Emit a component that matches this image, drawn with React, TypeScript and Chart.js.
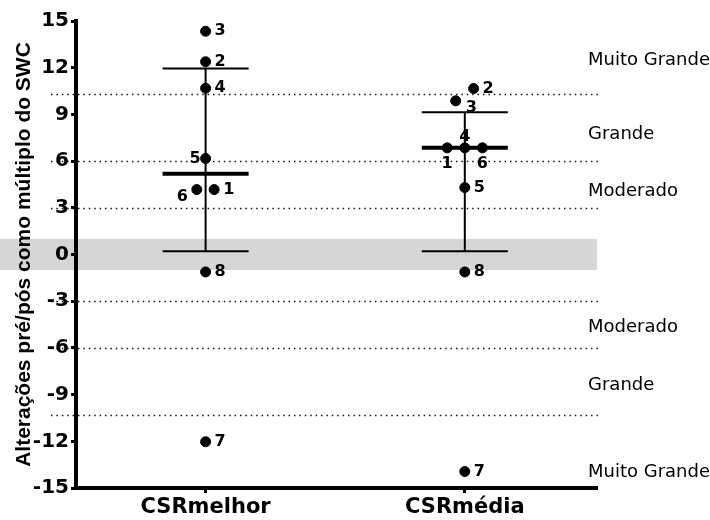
import { useEffect, useRef } from 'react';
import { Chart, registerables } from 'chart.js';

Chart.register(...registerables);

// ---- data ----
const categories = ['CSRmelhor', 'CSRmédia'];
const subjectIds = ['1', '2', '3', '4', '5', '6', '7', '8'];
const melhorValues = [4.17, 12.38, 14.34, 10.68, 6.17, 4.17, -12.03, -1.12];
const mediaValues = [6.85, 10.66, 9.87, 6.85, 4.3, 6.85, -13.94, -1.12];
const meanValues = [5.18, 6.85];
const upperValues = [11.95, 9.14];
const lowerValues = [0.21, 0.21];
const thresholdValues = [10.3, 6, 3, -3, -6, -10.3];
const bandLow = -1;
const bandHigh = 1;
const annotationLabels = ['Muito Grande', 'Grande', 'Moderado', 'Moderado', 'Grande', 'Muito Grande'];
const annotationValues = [12.5, 7.75, 4.05, -4.7, -8.4, -14.0];
const yMin = -15;
const yMax = 15;
const yStep = 3;
const yTitle = 'Alterações pré/pós como múltiplo do SWC';

// ---- styling (point spread & label placement) ----
const melhorJitter = [0.033, 0, 0, 0, 0, -0.034, 0, 0];
const mediaJitter = [-0.068, 0.034, -0.035, 0, 0, 0.068, 0, 0];
const melhorLabelPos = ['r', 'r', 'r', 'r', 'l', 'lb', 'r', 'r'];
const mediaLabelPos = ['b', 'r', 'rb', 'a', 'r', 'b', 'r', 'r'];
const labelOffsets: Record<string, [number, number, CanvasTextAlign]> = {
  r: [9, 0, 'left'],
  l: [-5, 0, 'right'],
  lb: [-9, 7, 'right'],
  b: [0, 16, 'center'],
  a: [0, -11.5, 'center'],
  rb: [10, 6.5, 'left'],
};
const capHalf = 0.166;

const seriesValues = [melhorValues, mediaValues];
const seriesJitter = [melhorJitter, mediaJitter];
const seriesLabelPos = [melhorLabelPos, mediaLabelPos];

const overlayPlugin = {
  id: 'overlay',
  beforeDraw(chart: any) {
    const { ctx, chartArea, scales } = chart;
    const y = scales.y;
    ctx.save();
    const yTop = y.getPixelForValue(bandHigh);
    const yBot = y.getPixelForValue(bandLow);
    ctx.fillStyle = '#d6d6d6';
    ctx.fillRect(0, yTop, chartArea.right, yBot - yTop);
    ctx.strokeStyle = '#111';
    ctx.lineWidth = 1.5;
    ctx.setLineDash([1.5, 3.9]);
    thresholdValues.forEach((v) => {
      const py = Math.round(y.getPixelForValue(v)) + 0.5;
      ctx.beginPath();
      ctx.moveTo(chartArea.left - 25, py);
      ctx.lineTo(chartArea.right + 2, py);
      ctx.stroke();
    });
    ctx.restore();
  },
  beforeDatasetsDraw(chart: any) {
    const { ctx, scales } = chart;
    const x = scales.x;
    const y = scales.y;
    ctx.save();
    ctx.strokeStyle = '#000';
    meanValues.forEach((m, i) => {
      const cx = x.getPixelForValue(i);
      const left = x.getPixelForValue(i - capHalf);
      const right = x.getPixelForValue(i + capHalf);
      const pu = y.getPixelForValue(upperValues[i]);
      const pl = y.getPixelForValue(lowerValues[i]);
      const pm = y.getPixelForValue(m);
      ctx.lineWidth = 2;
      ctx.beginPath();
      ctx.moveTo(cx, pu);
      ctx.lineTo(cx, pl);
      ctx.moveTo(left, pu);
      ctx.lineTo(right, pu);
      ctx.moveTo(left, pl);
      ctx.lineTo(right, pl);
      ctx.stroke();
      ctx.lineWidth = 4;
      ctx.beginPath();
      ctx.moveTo(left, pm);
      ctx.lineTo(right, pm);
      ctx.stroke();
    });
    ctx.restore();
  },
  afterDatasetsDraw(chart: any) {
    const { ctx, chartArea, scales } = chart;
    const y = scales.y;
    ctx.save();
    ctx.fillStyle = '#000';
    ctx.textBaseline = 'middle';
    ctx.font = 'bold 16px "DejaVu Sans"';
    seriesValues.forEach((vals, si) => {
      const meta = chart.getDatasetMeta(si);
      vals.forEach((_, pi) => {
        const el = meta.data[pi];
        const [dx, dy, align] = labelOffsets[seriesLabelPos[si][pi]];
        ctx.textAlign = align;
        ctx.fillText(subjectIds[pi], el.x + dx, el.y + dy);
      });
    });
    ctx.font = '18px "DejaVu Sans"';
    ctx.textAlign = 'left';
    annotationLabels.forEach((t, i) => {
      ctx.fillText(t, chartArea.right - 9, y.getPixelForValue(annotationValues[i]));
    });
    ctx.restore();
  },
};

export default function App() {
  const ref = useRef<HTMLCanvasElement | null>(null);
  useEffect(() => {
    if (!ref.current) return;
    const datasets = seriesValues.map((vals, si) => ({
      label: categories[si],
      data: vals.map((v, pi) => ({ x: si + seriesJitter[si][pi], y: v })),
      backgroundColor: '#000',
      borderColor: '#000',
      pointRadius: 5,
      pointHoverRadius: 5,
      showLine: false,
    }));
    const chart = new Chart(ref.current, {
      type: 'scatter',
      data: { datasets },
      plugins: [overlayPlugin],
      options: {
        animation: false,
        responsive: false,
        events: [],
        layout: { padding: { top: 21, right: 113, bottom: 0, left: 0 } },
        plugins: { legend: { display: false }, tooltip: { enabled: false } },
        scales: {
          x: {
            type: 'linear',
            min: -0.5,
            max: 1.51,
            afterBuildTicks: (s: any) => {
              s.ticks = categories.map((_, i) => ({ value: i }));
            },
            afterFit: (s: any) => {
              s.height = 32;
            },
            ticks: {
              callback: (v: any) => categories[Math.round(Number(v))] ?? '',
              font: { family: 'DejaVu Sans', weight: 'bold', size: 21 },
              color: '#000',
              padding: 2,
              autoSkip: false,
              maxRotation: 0,
            },
            grid: { drawOnChartArea: false, drawTicks: true, tickLength: 5, tickWidth: 3, tickColor: '#000' },
            border: { display: true, color: '#000', width: 4 },
          },
          y: {
            type: 'linear',
            min: yMin,
            max: yMax,
            afterFit: (s: any) => {
              s.width = 76;
            },
            ticks: {
              stepSize: yStep,
              font: { family: 'DejaVu Sans', weight: 'bold', size: 20 },
              color: '#000',
              padding: 2,
            },
            title: {
              display: true,
              text: yTitle,
              font: { family: 'Liberation Sans', weight: 'bold', size: 21 },
              color: '#000',
              padding: { top: 12, bottom: 0 },
            },
            grid: { drawOnChartArea: false, drawTicks: true, tickLength: 5, tickWidth: 3, tickColor: '#000' },
            border: { display: true, color: '#000', width: 4 },
          },
        },
      } as any,
    });
    return () => chart.destroy();
  }, []);
  return (
    <div style={{ position: 'absolute', left: 0, top: 0, width: 710, height: 520, background: '#fff' }}>
      <canvas ref={ref} width={710} height={520} />
    </div>
  );
}
